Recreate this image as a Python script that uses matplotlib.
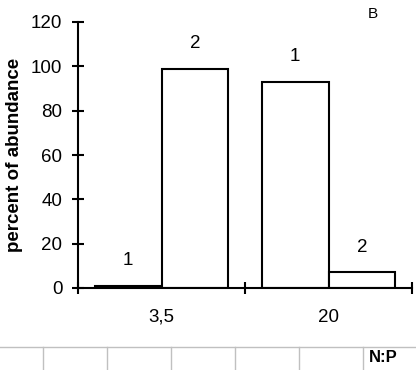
import numpy as np
import matplotlib
matplotlib.use("Agg")
import matplotlib.pyplot as plt
from matplotlib.lines import Line2D

plt.rcParams['font.family'] = ['Liberation Sans', 'DejaVu Sans']

# Datos
grupos = ["3,5", "20"]
serie_1 = [1, 93]
serie_2 = [99, 7]
etiquetas_serie = ["1", "2"]
yticks = [0, 20, 40, 60, 80, 100, 120]

fig = plt.figure(figsize=(4.16, 3.70), dpi=100)
ax = fig.add_axes([78 / 416, 1 - 288 / 370, (412 - 78) / 416, (288 - 22) / 370])

x = np.arange(len(grupos))
ancho = 0.4
b1 = ax.bar(x - ancho / 2, serie_1, ancho, color='white', edgecolor='black', linewidth=1.5)
b2 = ax.bar(x + ancho / 2, serie_2, ancho, color='white', edgecolor='black', linewidth=1.5)

# Etiquetas de serie sobre cada barra
for barras, etiqueta in zip([b1, b2], etiquetas_serie):
    for b in barras:
        ax.annotate(etiqueta, (b.get_x() + b.get_width() / 2, b.get_height()),
                    xytext=(0, 18), textcoords='offset points',
                    ha='center', va='center', fontsize=13.5)

ax.set_xlim(-0.5, len(grupos) - 0.5)
ax.set_ylim(0, 120)
ax.set_yticks(yticks)
ax.set_xticks(np.arange(len(grupos) + 1) - 0.5)
ax.set_xticklabels([])
ax.set_xticks(x, minor=True)
ax.set_xticklabels(grupos, minor=True, fontsize=13.5)
ax.tick_params(axis='x', which='minor', length=0, pad=15)
ax.tick_params(axis='x', which='major', direction='inout', length=8.5, width=1.5)
ax.tick_params(axis='y', direction='inout', length=8.5, width=1.5, labelsize=13.5, pad=7)

for lado in ['top', 'right']:
    ax.spines[lado].set_visible(False)
for lado in ['left', 'bottom']:
    ax.spines[lado].set_linewidth(1.5)

ax.set_ylabel("percent of abundance", fontsize=13.5, fontweight='bold', labelpad=6)
fig.text(373 / 416, 1 - 14 / 370, "B", ha='center', va='center', fontsize=11)

# Rejilla inferior tipo tabla
gris = '#c0c0c0'
y_linea = 1 - 347 / 370
fig.add_artist(Line2D([0, 1], [y_linea, y_linea], color=gris, linewidth=1))
for xv in [43, 107, 171, 235, 299, 363]:
    fig.add_artist(Line2D([xv / 416, xv / 416], [0, y_linea], color=gris, linewidth=1))
fig.text(383 / 416, 1 - 358 / 370, "N:P", ha='center', va='center', fontsize=12, fontweight='bold')

fig.savefig("out.png", dpi=100)
